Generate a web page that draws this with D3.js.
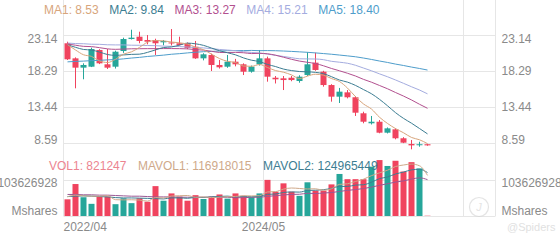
<!DOCTYPE html>
<html>
<head>
<meta charset="utf-8">
<script src="https://cdn.jsdelivr.net/npm/d3@7"></script>
<style>
  body { margin: 0; background: #fff; }
  svg { display: block; font-family: Arial, "Liberation Sans", sans-serif; }
</style>
</head>
<body>
<svg id="chart" width="560" height="240"></svg>
<script>
// monthly candles, 2022/04 .. 2026/01
const months = [
  "2022/04","2022/05","2022/06","2022/07","2022/08","2022/09","2022/10","2022/11","2022/12",
  "2023/01","2023/02","2023/03","2023/04","2023/05","2023/06","2023/07","2023/08","2023/09","2023/10","2023/11","2023/12",
  "2024/01","2024/02","2024/03","2024/04","2024/05","2024/06","2024/07","2024/08","2024/09","2024/10","2024/11","2024/12",
  "2025/01","2025/02","2025/03","2025/04","2025/05","2025/06","2025/07","2025/08","2025/09","2025/10","2025/11","2025/12",
  "2026/01"
];
const open = [21.99,19.97,18.72,18.85,21.09,19.17,18.85,20.95,22.56,22.87,22.43,22.43,22.12,22.10,21.99,21.99,21.53,19.97,20.42,19.08,18.85,19.52,19.17,18.18,19.17,19.97,17.37,17.29,17.37,16.93,17.74,19.39,18.18,16.39,14.83,15.41,14.75,12.60,11.26,11.47,10.00,10.45,9.25,8.48,8.33,8.45];
const high = [22.20,20.10,19.30,21.40,21.20,21.22,21.00,22.74,23.81,23.54,23.10,22.60,22.43,23.90,22.87,22.10,22.30,20.65,20.60,19.75,20.42,19.90,19.30,19.00,21.09,20.20,17.60,17.60,17.60,17.70,20.80,20.73,18.30,16.50,16.00,15.72,14.90,12.81,12.24,11.70,10.70,10.59,9.40,9.02,8.79,8.50];
const low = [19.75,15.95,17.16,18.80,19.20,18.54,18.60,20.70,22.50,21.99,21.85,20.42,21.72,21.70,21.70,21.20,19.90,19.70,18.27,18.60,18.70,18.90,17.73,18.05,19.00,16.84,16.60,15.72,16.90,16.70,17.60,18.30,16.17,14.16,13.98,14.60,12.24,11.26,11.10,9.92,9.90,9.11,8.60,7.77,8.12,8.25];
const close = [19.84,18.72,19.08,21.22,19.30,18.72,20.86,22.56,22.74,22.30,22.20,21.99,22.30,21.99,21.76,21.35,19.97,20.51,19.08,18.77,19.52,19.17,18.18,18.85,19.97,17.51,17.16,17.06,17.06,17.51,19.17,18.41,16.39,14.83,15.50,14.75,12.68,11.47,11.47,10.00,10.58,9.25,8.66,8.30,8.45,8.30];

const ma1 = [21.81,21.09,20.45,20.23,19.63,19.41,19.84,20.53,20.84,21.44,22.13,22.36,22.31,22.16,22.05,21.88,21.47,21.12,20.53,19.94,19.57,19.41,18.94,18.90,19.14,18.74,18.33,18.11,17.75,17.26,17.59,17.84,17.71,17.26,16.86,15.98,14.83,13.85,13.17,12.07,11.24,10.55,9.99,9.36,9.05,8.53];
const ma2 = [21.78,21.45,21.16,21.08,20.81,20.48,20.37,20.43,20.50,20.53,20.77,21.10,21.42,21.50,21.74,22.01,21.92,21.71,21.35,20.99,20.72,20.44,20.03,19.72,19.54,19.15,18.87,18.53,18.33,18.20,18.16,18.09,17.91,17.51,17.06,16.78,16.34,15.78,15.22,14.47,13.61,12.69,11.92,11.27,10.56,9.84];
const ma3 = [21.89,21.73,21.58,21.54,21.40,21.24,21.18,21.21,21.25,21.26,21.27,21.27,21.28,21.28,21.27,21.24,21.14,21.07,20.92,20.76,20.75,20.77,20.72,20.61,20.64,20.58,20.39,20.12,19.84,19.60,19.44,19.27,18.97,18.61,18.30,17.97,17.60,17.15,16.77,16.33,15.89,15.39,14.91,14.39,13.81,13.27];
const ma4 = [22.02,21.95,21.93,21.86,21.85,21.79,21.77,21.77,21.73,21.72,21.69,21.67,21.61,21.58,21.55,21.49,21.42,21.37,21.27,21.16,21.08,20.99,20.86,20.76,20.69,20.54,20.38,20.22,20.06,19.91,19.89,19.88,19.79,19.57,19.45,19.31,19.04,18.67,18.30,17.89,17.50,17.07,16.62,16.16,15.72,15.21];
const ma5 = [19.50,19.56,19.60,19.66,19.70,19.76,19.81,19.90,20.01,20.10,20.22,20.31,20.40,20.52,20.60,20.70,20.79,20.86,20.90,20.95,21.00,21.02,21.01,21.03,21.00,21.01,20.99,20.95,20.90,20.84,20.78,20.70,20.61,20.52,20.41,20.30,20.18,20.01,19.82,19.61,19.42,19.20,19.01,18.80,18.61,18.40];

// volume in millions of shares
const volume = [48,92,54,35,56,56,34,51,37,51,41,86,44,65,56,44,60,49,56,62,50,65,58,54,65,104,70,94,70,58,97,73,73,91,121,106,106,106,142,161,144,159,128,155,137,0.821247];
const mavol1 = [55,60,58,57,57,58.6,47,46.4,46.8,45.8,42.8,53.2,51.8,57.4,58.4,59,53.8,54.8,53,54.2,55.4,56.4,58.2,57.8,58.4,69.2,70.2,77.4,80.6,79.2,77.8,78.4,74.2,78.4,91,92.8,99.4,106,116.2,124.2,131.8,142.4,146.8,149.4,144.6,116.918015];
const mavol2 = [56,57,58,57,56,55,53,52,52,51.4,50.7,50.1,49.1,52.1,52.1,50.9,53.5,53.3,55.2,56.3,57.2,55.1,56.5,55.4,56.3,62.3,63.3,67.8,69.2,68.8,73.5,74.3,75.8,79.5,85.1,85.3,88.9,90.1,97.3,107.6,112.3,120.9,126.4,132.8,134.4,124.965449];
const mavol3 = [62,62,61,61,60,60,59,58,57,57,56,55,55,55,54,54,54,54,54,53.9,54,52.6,52.8,53.8,54.2,56.6,58.4,60.6,62.2,62.6,65.4,64.7,66.2,67.5,70.7,73.8,76.1,79,83.3,88.2,92.9,97.6,101.1,106.2,109.8,104.6];

const priceTicks = [23.14, 18.29, 13.44, 8.59];
const volTicks = [103.626928, 0];
const volTickLabels = ["103626928", "Mshares"];
const xTickIndex = [0, 25, 50];
const xTickLabels = ["2022/04", "2024/05", ""];

const maNames = ["MA1", "MA2", "MA3", "MA4", "MA5"];
const maColors = ["#d8a57c", "#3c7d92", "#b2508f", "#a4acdf", "#4e9dcb"];
const volNames = ["MAVOL1", "MAVOL2"];
const volColors = ["#cfa98a", "#3c7d92", "#9a5894"];

const UP = "#26a69a", DOWN = "#f0435e";
const GRID = "#e6e6e6", LABEL = "#8a8a8a";

const svg = d3.select("#chart");
const slots = 54;
const left = 63.5, right = 495.5;
const x = d3.scaleBand().domain(d3.range(slots)).range([left, right]);
const cx = (i) => x(i) + x.bandwidth() / 2;
const y = d3.scaleLinear().domain([8.59, 23.14]).range([143.2, 34.7]);
const yv = d3.scaleLinear().domain([0, 103.626928]).range([216, 180]);

// grid
const grid = svg.append("g").attr("stroke", GRID).attr("stroke-width", 1);
xTickIndex.forEach((i) => {
  grid.append("line").attr("x1", x(i)).attr("x2", x(i)).attr("y1", 0).attr("y2", 216);
});
grid.append("line").attr("x1", right).attr("x2", right).attr("y1", 0).attr("y2", 216);
priceTicks.forEach((t) => {
  const yy = Math.round(y(t)) + 0.5;
  grid.append("line").attr("x1", left).attr("x2", right).attr("y1", yy).attr("y2", yy);
});
volTicks.forEach((t) => {
  const yy = Math.round(yv(t)) + 0.5;
  grid.append("line").attr("x1", left).attr("x2", right).attr("y1", yy).attr("y2", yy);
});

// axes (labels only)
function styleAxis(g) {
  g.select(".domain").remove();
  g.selectAll("line").remove();
  g.selectAll("text").attr("fill", LABEL).style("font-size", "12px");
}
const shiftPrice = (d, i) => (i === 0 ? 3.5 : i === priceTicks.length - 1 ? -3.5 : 0);
const shiftVol = (d, i) => (i === 0 ? 2.5 : -5.5);

svg.append("g").attr("transform", `translate(${left},0)`)
  .call(d3.axisLeft(y).tickValues(priceTicks).tickSize(0).tickPadding(6).tickFormat(d3.format(".2f")))
  .call(styleAxis)
  .selectAll("text").attr("transform", (d, i) => `translate(0,${shiftPrice(d, i)})`);
svg.append("g").attr("transform", `translate(${right},0)`)
  .call(d3.axisRight(y).tickValues(priceTicks).tickSize(0).tickPadding(6).tickFormat(d3.format(".2f")))
  .call(styleAxis)
  .selectAll("text").attr("transform", (d, i) => `translate(0,${shiftPrice(d, i)})`);

svg.append("g").attr("transform", `translate(${left},0)`)
  .call(d3.axisLeft(yv).tickValues(volTicks).tickSize(0).tickPadding(6).tickFormat((d, i) => volTickLabels[i]))
  .call(styleAxis)
  .selectAll("text").attr("transform", (d, i) => `translate(0,${shiftVol(d, i)})`);
svg.append("g").attr("transform", `translate(${right},0)`)
  .call(d3.axisRight(yv).tickValues(volTicks).tickSize(0).tickPadding(6).tickFormat((d, i) => volTickLabels[i]))
  .call(styleAxis)
  .selectAll("text").attr("transform", (d, i) => `translate(0,${shiftVol(d, i)})`);

// x labels
xTickIndex.forEach((i, k) => {
  if (!xTickLabels[k]) return;
  svg.append("text")
    .attr("x", k === 0 ? x(i) : x(i))
    .attr("y", 231)
    .attr("text-anchor", k === 0 ? "start" : "middle")
    .attr("fill", LABEL)
    .style("font-size", "12px")
    .text(xTickLabels[k]);
});

// watermark
const wm = svg.append("g").attr("opacity", 0.55);
wm.append("circle").attr("cx", 479).attr("cy", 207).attr("r", 9.5)
  .attr("fill", "none").attr("stroke", "#cfcfcf").attr("stroke-width", 1.2);
wm.append("text").attr("x", 479).attr("y", 211).attr("text-anchor", "middle")
  .attr("fill", "#cfcfcf").style("font-size", "11px").style("font-style", "italic").text("J");
wm.append("text").attr("x", 507).attr("y", 231).attr("fill", "#c8c8c8")
  .style("font-size", "11px").text("@Spiders");

// volume bars
const bw = 6;
svg.append("g").selectAll("rect").data(volume).join("rect")
  .attr("x", (d, i) => cx(i) - bw / 2)
  .attr("width", bw)
  .attr("y", (d) => yv(d))
  .attr("height", (d) => yv(0) - yv(d))
  .attr("fill", (d, i) => (close[i] >= open[i] ? UP : DOWN));

// volume MA lines
const vline = d3.line().x((d, i) => cx(i)).y((d) => yv(d)).curve(d3.curveMonotoneX);
[mavol3, mavol2, mavol1].forEach((s, k) => {
  svg.append("path").datum(s)
    .attr("fill", "none")
    .attr("stroke", volColors[2 - k])
    .attr("stroke-width", 1)
    .attr("d", vline);
});

// candles
const cg = svg.append("g");
close.forEach((c, i) => {
  const col = c >= open[i] ? UP : DOWN;
  cg.append("line")
    .attr("x1", cx(i)).attr("x2", cx(i))
    .attr("y1", y(high[i])).attr("y2", y(low[i]))
    .attr("stroke", col).attr("stroke-width", 1);
  const top = y(Math.max(open[i], c));
  const h = Math.max(1, Math.abs(y(open[i]) - y(c)));
  cg.append("rect")
    .attr("x", cx(i) - bw / 2).attr("width", bw)
    .attr("y", top).attr("height", h)
    .attr("fill", col);
});

// price MA lines
const pline = d3.line().x((d, i) => cx(i)).y((d) => y(d)).curve(d3.curveMonotoneX);
[ma5, ma4, ma3, ma2, ma1].forEach((s, k) => {
  svg.append("path").datum(s)
    .attr("fill", "none")
    .attr("stroke", maColors[4 - k])
    .attr("stroke-width", 1)
    .attr("d", pline);
});

// legends
function legend(items, x0, y0, gap) {
  let xx = x0;
  items.forEach((it) => {
    const t = svg.append("text")
      .attr("x", xx).attr("y", y0)
      .attr("fill", it.color)
      .style("font-size", "12px")
      .text(it.text);
    xx += t.node().getComputedTextLength() + gap;
  });
}
const maSeries = [ma1, ma2, ma3, ma4, ma5];
legend(maNames.map((n, k) => ({
  text: `${n}: ${maSeries[k][maSeries[k].length - 1].toFixed(2)}`,
  color: maColors[k]
})), 44, 14, 10.5);

const fmtVol = (v) => String(Math.round(v * 1e6));
legend([
  { text: `VOL1: ${fmtVol(volume[volume.length - 1])}`, color: "#ec8490" },
  { text: `MAVOL1: ${fmtVol(mavol1[mavol1.length - 1])}`, color: volColors[0] },
  { text: `MAVOL2: ${fmtVol(mavol2[mavol2.length - 1])}`, color: volColors[1] }
], 49, 170, 11.5);
</script>
</body>
</html>
